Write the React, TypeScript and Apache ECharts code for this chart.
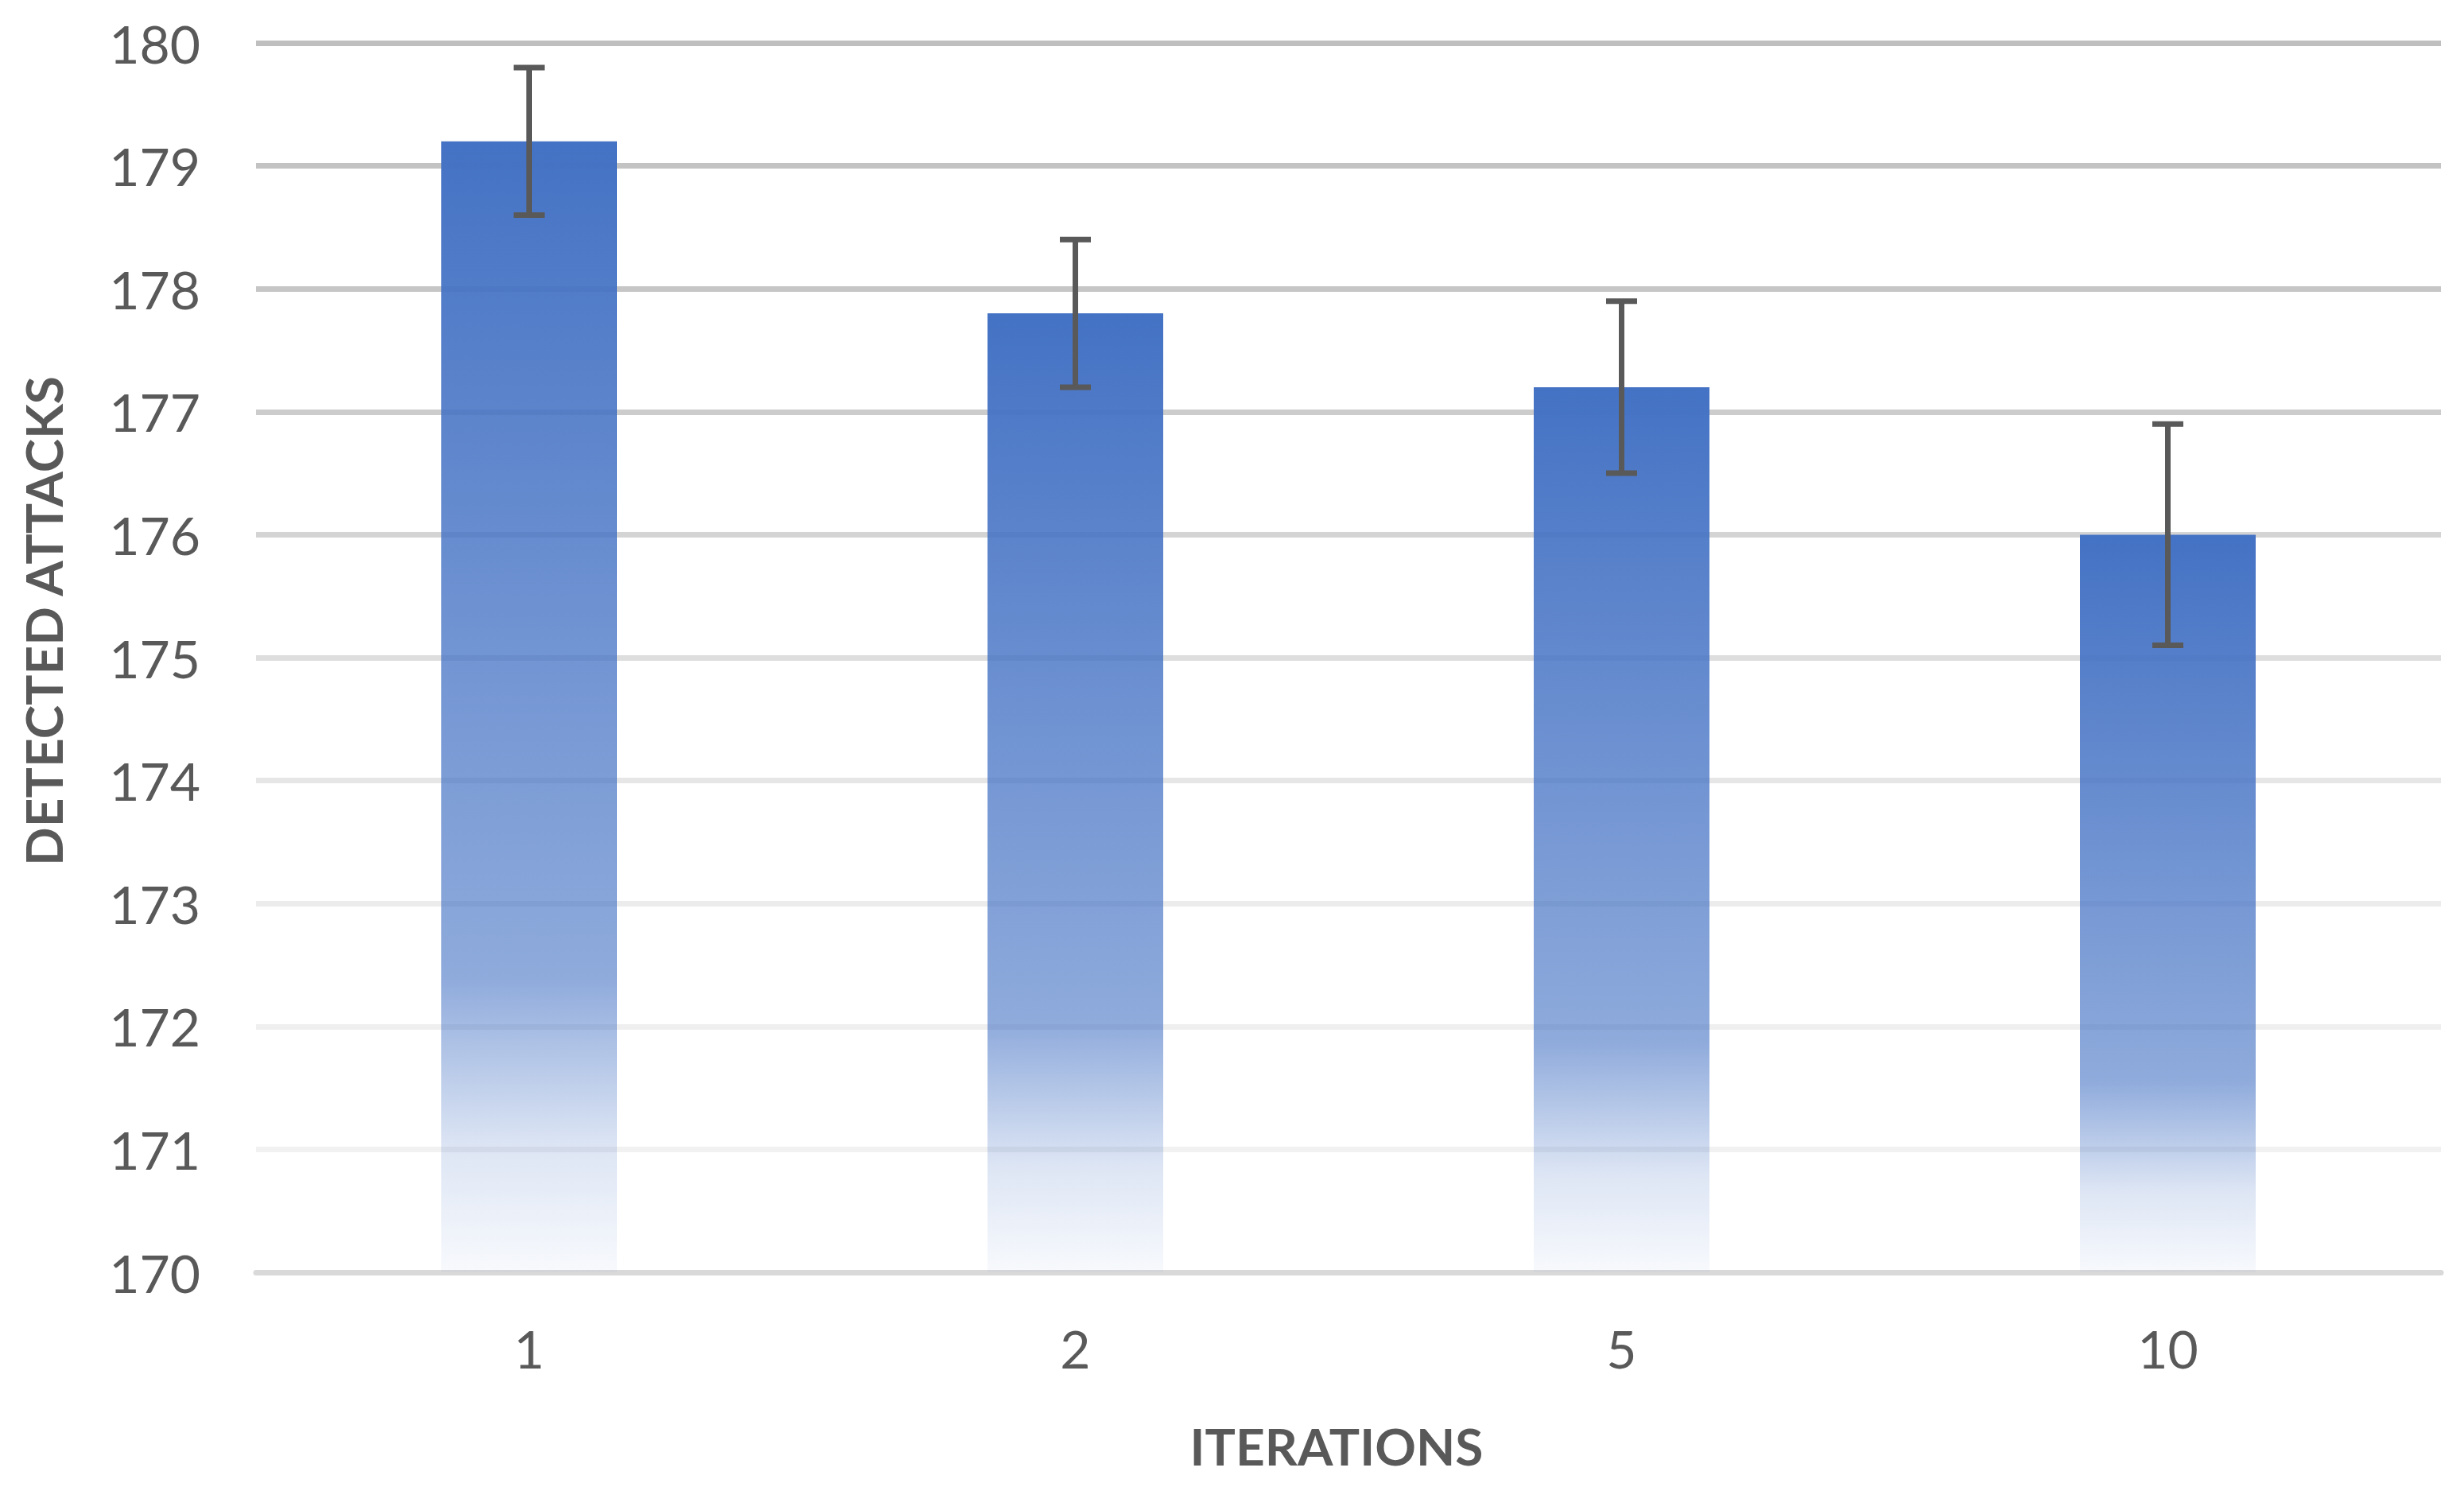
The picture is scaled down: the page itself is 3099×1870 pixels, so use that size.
import React, { useEffect, useRef } from "react";
import * as echarts from "echarts";

const categories = ["1", "2", "5", "10"];
const meanValues = [179.2, 177.8, 177.2, 176.0];
const errorLow = [178.6, 177.2, 176.5, 175.1];
const errorHigh = [179.8, 178.4, 177.9, 176.9];
const yMin = 170;
const yMax = 180;
const yInterval = 1;
const gridLineColors = [
  "#d9d9d9", "#f1f1f1", "#efefef", "#ececec", "#e6e6e6", "#dedede",
  "#d4d4d4", "#cccccc", "#c6c6c6", "#c3c3c3", "#bfbfbf",
];
const xTitle = "ITERATIONS";
const yTitle = "DETECTED ATTACKS";

const W = 3099;
const H = 1870;
const TEXT = "#595959";
const FONT = "Lato, 'Open Sans', sans-serif";

export default function App() {
  const ref = useRef<HTMLDivElement>(null);
  useEffect(() => {
    if (!ref.current) return;
    const chart = echarts.init(ref.current, undefined, { renderer: "svg" });
    const barGradient = new echarts.graphic.LinearGradient(0, 0, 0, 1, [
      { offset: 0, color: "rgba(68,114,196,1)" },
      { offset: 0.74, color: "rgba(68,114,196,0.6)" },
      { offset: 0.89, color: "rgba(68,114,196,0.18)" },
      { offset: 1, color: "rgba(68,114,196,0.04)" },
    ]);
    const errData = categories.map((_, i) => [i, errorLow[i], errorHigh[i]]);
    chart.setOption({
      animation: false,
      backgroundColor: "#ffffff",
      grid: {
        left: 322,
        right: 29,
        top: 54,
        bottom: 270,
        containLabel: false,
        outerBoundsMode: "none",
      },
      xAxis: {
        type: "category",
        data: categories,
        axisTick: { show: false },
        axisLine: { show: true, lineStyle: { color: "#d9d9d9", width: 7 } },
        axisLabel: { color: TEXT, fontFamily: FONT, fontSize: 66, margin: 62 },
        name: xTitle,
        nameLocation: "middle",
        nameGap: 186,
        nameTextStyle: {
          color: TEXT,
          fontFamily: FONT,
          fontWeight: "bold",
          fontSize: 64,
          padding: [0, 30, 0, 0],
        },
      },
      yAxis: {
        type: "value",
        min: yMin,
        max: yMax,
        interval: yInterval,
        axisLine: { show: false },
        axisTick: { show: false },
        axisLabel: { color: TEXT, fontFamily: FONT, fontSize: 66, margin: 70 },
        splitLine: { show: true, lineStyle: { color: gridLineColors, width: 7 } },
        name: yTitle,
        nameLocation: "middle",
        nameGap: 236,
        nameRotate: 90,
        nameTextStyle: {
          color: TEXT,
          fontFamily: FONT,
          fontWeight: "bold",
          fontSize: 64,
          padding: [0, 0, 0, 92],
        },
      },
      series: [
        {
          type: "bar",
          data: meanValues,
          barWidth: 221,
          itemStyle: { color: barGradient },
          clip: true,
          z: 2,
        },
        {
          type: "custom",
          data: errData,
          z: 5,
          renderItem: (params: any, api: any) => {
            const x = api.value(0);
            const lo = api.coord([x, api.value(1)]);
            const hi = api.coord([x, api.value(2)]);
            const half = 19.5;
            const style = { stroke: "#595959", lineWidth: 7 };
            return {
              type: "group",
              children: [
                { type: "line", shape: { x1: hi[0], y1: hi[1], x2: lo[0], y2: lo[1] }, style },
                { type: "line", shape: { x1: hi[0] - half, y1: hi[1], x2: hi[0] + half, y2: hi[1] }, style },
                { type: "line", shape: { x1: lo[0] - half, y1: lo[1], x2: lo[0] + half, y2: lo[1] }, style },
              ],
            };
          },
        },
      ],
    });
    return () => chart.dispose();
  }, []);
  return (
    <div
      ref={ref}
      style={{ position: "fixed", left: 0, top: 0, width: W, height: H, background: "#fff" }}
    />
  );
}
